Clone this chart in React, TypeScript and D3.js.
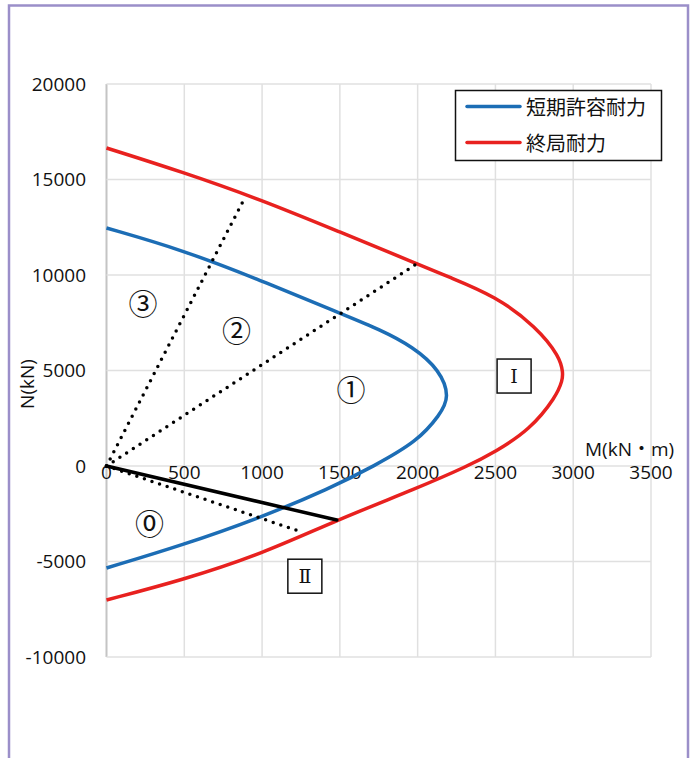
// M-N interaction chart (short-term allowable vs ultimate capacity)
import React from 'react';
import * as d3 from 'd3';

type Pt = [number, number];

// [M (kN·m), N (kN)]
const allowableCurve: Pt[] = [
  [0, 12460], [489, 11310], [985, 9740], [1500, 7995], [1757, 7150],
  [1970, 6240], [2142, 5030], [2207, 3610], [2142, 2670], [2000, 1300],
  [1720, 0], [1436, -1170], [985, -2720], [489, -4140], [0, -5340],
];
const ultimateCurve: Pt[] = [
  [0, 16650], [489, 15390], [997, 13930], [1499, 12250], [2000, 10580], [2200, 9900],
  [2500, 8900], [2763, 7290], [2915, 5710], [2934, 4870], [2931, 4500], [2891, 3630], [2720, 1885],
  [2500, 750], [2324, 0], [2000, -1150], [1480, -2830], [1000, -4600], [489, -5970], [0, -7015],
];
const dottedLines: Pt[][] = [
  [[0, 0], [880, 13900]],
  [[0, 0], [1982, 10520]],
  [[0, 0], [1255, -3460]],
];
const solidLine: Pt[] = [[0, 0], [1480, -2830]];

const xTicks = [0, 500, 1000, 1500, 2000, 2500, 3000, 3500];
const yTicks = [-10000, -5000, 0, 5000, 10000, 15000, 20000];

const zoneLabels = [
  { text: '③', m: 235, n: 8600 },
  { text: '②', m: 835, n: 7190 },
  { text: '①', m: 1571, n: 4100 },
  { text: '⓪', m: 277, n: -2930 },
];
const boxLabels = [
  { text: 'Ⅰ', m: 2620, n: 4710 },
  { text: 'Ⅱ', m: 1275, n: -5770 },
];

const legendItems = [
  { label: '短期許容耐力', color: '#1c6db5' },
  { label: '終局耐力', color: '#e8211f' },
];

const W = 692, H = 758;
const numFont = '"Open Sans", "Noto Sans CJK JP", sans-serif';
const jpFont = '"Noto Sans CJK JP", sans-serif';
const romanFont = '"DejaVu Serif", "Liberation Serif", serif';

export default function App() {
  const x = d3.scaleLinear().domain([0, 3500]).range([106.5, 651]);
  const y = d3.scaleLinear().domain([-10000, 20000]).range([657, 84]);

  // B-spline keeps the read-off points from producing kinks
  const curve = d3.line<Pt>().x(d => x(d[0])).y(d => y(d[1])).curve(d3.curveBasis);
  const straight = d3.line<Pt>().x(d => x(d[0])).y(d => y(d[1]));

  return (
    <svg width={W} height={H} style={{ position: 'absolute', left: 0, top: 0, background: '#fff' }}>
      {/* outer frame */}
      <rect x={9} y={5.5} width={679} height={800} fill="none" stroke="#9b8fc9" strokeWidth={2.5} />

      {/* grid */}
      {xTicks.map(t => (
        <line key={`gx${t}`} x1={x(t)} x2={x(t)} y1={y(20000)} y2={y(-10000)}
          stroke={t === 0 ? '#c4c4c4' : '#e0e0e0'} strokeWidth={t === 0 ? 2 : 1.5} />
      ))}
      {yTicks.map(t => (
        <line key={`gy${t}`} x1={x(0)} x2={x(3500)} y1={y(t)} y2={y(t)} stroke="#e0e0e0" strokeWidth={1.5} />
      ))}

      {/* tick labels */}
      {yTicks.map(t => (
        <text key={`ly${t}`} x={86} y={y(t) + 6.5} textAnchor="end" fontSize={19} fontFamily={numFont} fill="#111">{t}</text>
      ))}
      {xTicks.map(t => (
        <text key={`lx${t}`} x={x(t)} y={479} textAnchor="middle" fontSize={19} fontFamily={numFont} fill="#111">{t}</text>
      ))}

      {/* axis titles */}
      <text x={585} y={456} fontSize={19} fontFamily={numFont} fill="#111">M(kN・m)</text>
      <text transform="translate(34, 384) rotate(-90)" textAnchor="middle" fontSize={19} fontFamily={numFont} fill="#111">N(kN)</text>

      {/* curves */}
      <path d={curve(ultimateCurve) ?? ''} fill="none" stroke={legendItems[1].color} strokeWidth={3.5} />
      <path d={curve(allowableCurve) ?? ''} fill="none" stroke={legendItems[0].color} strokeWidth={3.5} />

      {/* eccentricity lines */}
      {dottedLines.map((l, i) => (
        <path key={`dl${i}`} d={straight(l) ?? ''} fill="none" stroke="#000" strokeWidth={3.5}
          strokeLinecap="round" strokeDasharray="0 8" />
      ))}
      <path d={straight(solidLine) ?? ''} fill="none" stroke="#000" strokeWidth={3.5} strokeLinecap="round" />

      {/* zone labels */}
      {zoneLabels.map(z => (
        <text key={z.text} x={x(z.m)} y={y(z.n)} textAnchor="middle" dominantBaseline="central"
          fontSize={29} fontFamily={jpFont} fill="#111">{z.text}</text>
      ))}
      {boxLabels.map(b => (
        <g key={b.text}>
          <rect x={x(b.m) - 17} y={y(b.n) - 17} width={34} height={34} fill="#fff" stroke="#111" strokeWidth={1.5} />
          <text x={x(b.m)} y={y(b.n)} textAnchor="middle" dominantBaseline="central"
            fontSize={19} fontFamily={romanFont} fill="#111">{b.text}</text>
        </g>
      ))}

      {/* legend */}
      <rect x={455.5} y={90.5} width={206} height={70} fill="#fff" stroke="#111" strokeWidth={1.5} />
      {legendItems.map((it, i) => (
        <g key={it.label} transform={`translate(0, ${106.5 + i * 36})`}>
          <line x1={467} x2={520} y1={0} y2={0} stroke={it.color} strokeWidth={3.5} strokeLinecap="round" />
          <text x={526} y={0} dominantBaseline="central" fontSize={20} fontFamily={jpFont} fill="#111">{it.label}</text>
        </g>
      ))}
    </svg>
  );
}
